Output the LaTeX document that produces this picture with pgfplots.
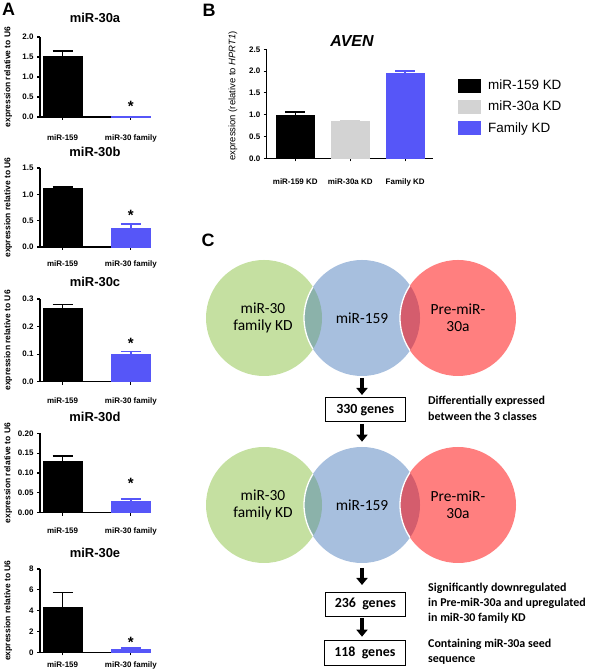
\documentclass[border=0pt]{standalone}
\usepackage{pgfplots}
\pgfplotsset{compat=1.18}
\usepackage{fontspec}
\setmainfont{Liberation Sans}
\newfontfamily\calibri{Carlito}
\usetikzlibrary{arrows.meta}
\definecolor{kdblue}{HTML}{5656F8}
\definecolor{kdgray}{HTML}{D3D3D3}
\definecolor{vgreen}{HTML}{C5E0A1}
\definecolor{vblue}{HTML}{A7BFDE}
\definecolor{vred}{HTML}{FF7F7F}
\definecolor{vgb}{HTML}{8BB2AA}
\definecolor{vbr}{HTML}{D45D6D}
\newcommand\fs[1]{\fontsize{#1}{#1}\selectfont}

\pgfplotsset{
  gp/.style={scale only axis, axis lines*=left, axis line style={-, line width=1.1bp},
    tick style={black, line width=1.1bp}, major tick length=3bp, tick align=outside,
    ymin=0, clip=false, ybar, bar shift=0pt, scaled y ticks=false,
    tick label style={font=\fs{8}\bfseries},
    /pgf/number format/assume math mode=true},
  panA/.style={gp, width=110bp, xmin=-0.33, xmax=1.28, bar width=0.57,
    xtick={0,1}, xticklabels={miR-159,miR-30 family},
    ylabel={expression relative to U6},
    ylabel style={font=\fs{8.5}\bfseries, at={(axis description cs:-0.29,0.5)}, anchor=center}},
  eb/.style={error bars/y dir=plus, error bars/y explicit, error bars/error mark=|,
    error bars/error bar style={line width=1.5bp, #1},
    error bars/error mark options={mark size=10bp, line width=1.5bp, #1}},
  dec/.style={yticklabel style={/pgf/number format/.cd, fixed, fixed zerofill, precision=#1}},
}

\begin{document}
\begin{tikzpicture}[x=1bp, y=1bp]
\useasboundingbox (0,0) rectangle (600,670);

% ---- panel A
\node[font=\fs{18}\bfseries] at (8.5,661) {A};

\begin{axis}[panA, at={(40bp,553bp)}, anchor=south west, height=80bp, ymax=2,
  ytick={0,0.5,1,1.5,2}, dec=1, xticklabel style={yshift=-11bp}]
\addplot[fill=black, draw=black, eb=black] coordinates {(0,1.53) +- (0,0.12)};
\addplot[fill=kdblue, draw=kdblue] coordinates {(1,0.02)};
\node[font=\fs{13}\bfseries, yshift=19bp] at (rel axis cs:0.5,1) {miR-30a};
\node[font=\fs{15}\bfseries, yshift=-3bp] at (axis cs:1,0.35) {*};
\end{axis}

\begin{axis}[panA, at={(40bp,423bp)}, anchor=south west, height=79bp, ymax=1.5,
  ytick={0,0.5,1,1.5}, dec=1, xticklabel style={yshift=-7bp}]
\addplot[fill=black, draw=black, eb=black] coordinates {(0,1.12) +- (0,0.02)};
\addplot[fill=kdblue, draw=kdblue, eb=kdblue] coordinates {(1,0.35) +- (0,0.09)};
\node[font=\fs{13}\bfseries, yshift=16bp] at (rel axis cs:0.5,1) {miR-30b};
\node[font=\fs{15}\bfseries, yshift=-3bp] at (axis cs:1,0.65) {*};
\end{axis}

\begin{axis}[panA, at={(40bp,288.3bp)}, anchor=south west, height=82.7bp, ymax=0.3,
  ytick={0,0.1,0.2,0.3}, dec=1, xticklabel style={yshift=-10bp}]
\addplot[fill=black, draw=black, eb=black] coordinates {(0,0.265) +- (0,0.015)};
\addplot[fill=kdblue, draw=kdblue, eb=kdblue] coordinates {(1,0.10) +- (0,0.01)};
\node[font=\fs{13}\bfseries, yshift=17bp] at (rel axis cs:0.5,1) {miR-30c};
\node[font=\fs{15}\bfseries, yshift=-3bp] at (axis cs:1,0.151) {*};
\end{axis}

\begin{axis}[panA, at={(40bp,157.3bp)}, anchor=south west, height=79.4bp, ymax=0.2,
  ytick={0,0.05,0.1,0.15,0.2}, dec=2, xticklabel style={yshift=-9bp}]
\addplot[fill=black, draw=black, eb=black] coordinates {(0,0.130) +- (0,0.013)};
\addplot[fill=kdblue, draw=kdblue, eb=kdblue] coordinates {(1,0.028) +- (0,0.007)};
\node[font=\fs{13}\bfseries, yshift=16bp] at (rel axis cs:0.5,1) {miR-30d};
\node[font=\fs{15}\bfseries, yshift=-3bp] at (axis cs:1,0.082) {*};
\end{axis}

\begin{axis}[panA, at={(40bp,17.7bp)}, anchor=south west, height=83.3bp, ymax=8,
  ytick={0,2,4,6,8}, xticklabel style={yshift=-3bp}]
\addplot[fill=black, draw=black, eb=black] coordinates {(0,4.3) +- (0,1.45)};
\addplot[fill=kdblue, draw=kdblue, eb=kdblue] coordinates {(1,0.28) +- (0,0.12)};
\node[font=\fs{13}\bfseries, yshift=16bp] at (rel axis cs:0.5,1) {miR-30e};
\node[font=\fs{15}\bfseries, yshift=-3bp] at (axis cs:1,1.28) {*};
\end{axis}

% ---- panel B
\node[font=\fs{18}\bfseries] at (209,660) {B};

\begin{axis}[gp, at={(266.7bp,511.7bp)}, anchor=south west, width=166bp, height=109bp,
  xmin=-0.52, xmax=2.5, bar width=0.68, ymax=2.5, ytick={0,0.5,1,1.5,2,2.5}, dec=1,
  xtick={0,1,2}, xticklabels={miR-159 KD,miR-30a KD,Family KD},
  xticklabel style={yshift=-14bp},
  ylabel={expression (relative to \textit{HPRT1})},
  ylabel style={font=\fs{9.5}, at={(axis description cs:-0.203,0.571)}, anchor=center},
  legend style={at={(axis description cs:1.152,0.74)}, anchor=north west, draw=none,
    fill=none, font=\fs{13.5}, row sep=6bp, column sep=6bp, inner sep=0pt},
  legend cell align=left]
\addplot[fill=black, draw=black, eb=black, forget plot] coordinates {(0,0.98) +- (0,0.08)};
\addplot[fill=kdgray, draw=kdgray, eb=kdgray, forget plot] coordinates {(1,0.84) +- (0,0.02)};
\addplot[fill=kdblue, draw=kdblue, eb=kdblue, forget plot] coordinates {(2,1.96) +- (0,0.04)};
\addlegendimage{legend image code/.code={\fill[black] (1bp,-6.3bp) rectangle (22.7bp,6.3bp);}}
\addlegendentry{miR-159 KD}
\addlegendimage{legend image code/.code={\fill[kdgray] (1bp,-6.3bp) rectangle (22.7bp,6.3bp);}}
\addlegendentry{miR-30a KD}
\addlegendimage{legend image code/.code={\fill[kdblue] (1bp,-6.3bp) rectangle (22.7bp,6.3bp);}}
\addlegendentry{Family KD}
\node[font=\fs{16}\bfseries\itshape, yshift=8.6bp] at (rel axis cs:0.514,1) {AVEN};
\end{axis}

% ---- panel C
\node[font=\fs{18}\bfseries] at (208,430) {C};

\foreach \cy in {352,165} {
  \fill[vgreen] (264,\cy) circle (58);
  \fill[vblue] (362,\cy) circle (58);
  \fill[vred] (458,\cy) circle (58);
  \begin{scope}
    \clip (264,\cy) circle (58);
    \fill[vgb] (362,\cy) circle (58);
    \draw[white, line width=1.3bp] (362,\cy) circle (58);
  \end{scope}
  \begin{scope}
    \clip (362,\cy) circle (58);
    \fill[vbr] (458,\cy) circle (58);
    \draw[white, line width=1.3bp] (458,\cy) circle (58);
  \end{scope}
  \node[font=\calibri\fontsize{15.5}{16.7}\selectfont, align=center] at (263,\cy) {miR-30\\family KD};
  \node[font=\calibri\fs{15.5}] at (362,\cy) {miR-159};
  \node[font=\calibri\fontsize{15.5}{16.7}\selectfont, align=center] at (458,\cy) {Pre-miR-\\30a};
}

\tikzset{flow/.style={line width=3.6bp, -{Triangle[length=7bp, width=11bp]}},
  gbox/.style={draw, line width=0.8bp, minimum width=80.5bp, minimum height=24bp,
    inner sep=0pt, font=\calibri\fs{14}\bfseries},
  side/.style={anchor=base west, font=\calibri\fs{12}\bfseries, inner sep=0pt}}

\draw[flow] (362,292) -- (362,275);
\node[gbox] at (365.3,260.3) {330 genes};
\draw[flow] (362,246) -- (362,228.3);
\draw[flow] (362,102) -- (362,85);
\node[gbox] at (365.3,66) {236\hspace{0.45em}genes};
\draw[flow] (362,52) -- (362,33.3);
\node[gbox, minimum height=25bp] at (364.8,17.5) {118\hspace{0.45em}genes};

\node[side] at (428,265) {Differentially expressed};
\node[side] at (428,249.3) {between the 3 classes};
\node[side] at (428,78.7) {Significantly downregulated};
\node[side] at (428,63.7) {in Pre-miR-30a and upregulated};
\node[side] at (428,48.3) {in miR-30 family KD};
\node[side] at (428,22.7) {Containing miR-30a seed};
\node[side] at (428,7.7) {sequence};
\end{tikzpicture}
\end{document}
